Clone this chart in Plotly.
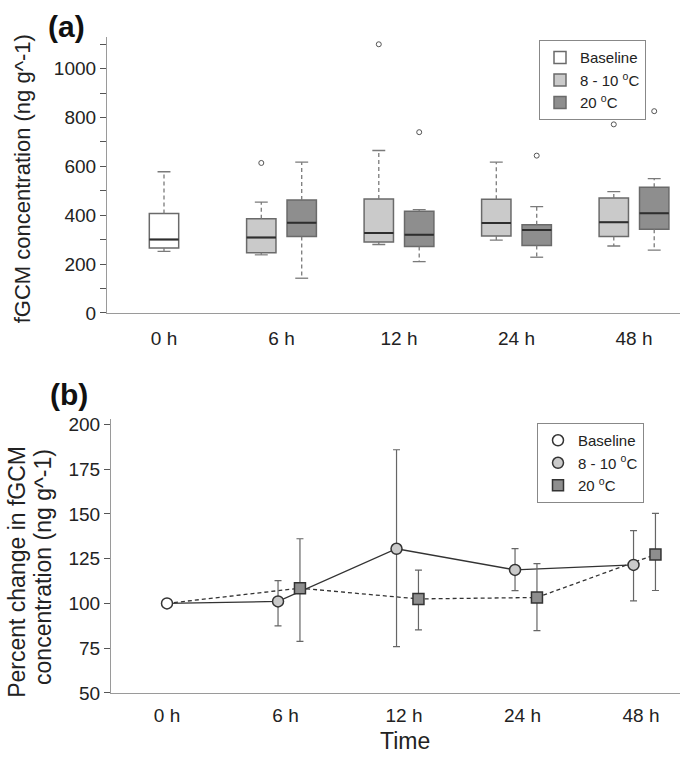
import plotly.graph_objects as go

# ---------------- data ----------------
time_labels = ["0 h", "6 h", "12 h", "24 h", "48 h"]

# panel (a): box statistics (ng g^-1)
base_stats = dict(lo=252, q1=266, med=301, q3=407, hi=578)

cool_lo = [238, 280, 298, 274]
cool_q1 = [246, 290, 315, 313]
cool_med = [309, 327, 368, 371]
cool_q3 = [386, 466, 465, 471]
cool_hi = [454, 665, 617, 497]
cool_out = [[614], [1100], [], [772]]

warm_lo = [142, 210, 228, 257]
warm_q1 = [313, 272, 276, 343]
warm_med = [369, 320, 339, 408]
warm_q3 = [462, 416, 361, 515]
warm_hi = [617, 423, 435, 550]
warm_out = [[], [740], [644], [826]]

# panel (b): percent change, mean and error-bar limits
base_pct = 100
cool_pct = [101.1, 130.5, 118.7, 121.5]
cool_up = [112.7, 185.8, 130.6, 140.6]
cool_dn = [87.4, 75.9, 107.1, 101.4]
warm_pct = [108.5, 102.5, 103.3, 127.3]
warm_up = [136.1, 118.6, 122.2, 150.3]
warm_dn = [78.8, 85.2, 84.8, 107.2]

# ---------------- styling ----------------
FONT = "Liberation Sans, Arial, sans-serif"
W, H = 685, 762
C_LIGHT = "#cacaca"
C_DARK = "#8e8e8e"
C_EDGE = "#6a6a6a"
C_MED = "#2e2e2e"
C_WHISK = "#7a7a7a"

BOX_OFF = 0.172
BOX_W = 0.25
CAP_HALF = 0.055

fig = go.Figure()

idx = list(range(1, 5))


def add_box(pos, lo, q1, med, q3, hi, outs, fill, name, show):
    fig.add_trace(go.Box(
        x=[pos], q1=[q1], median=[med], q3=[q3], lowerfence=[q1], upperfence=[q3],
        width=BOX_W, fillcolor=fill, line=dict(color=C_EDGE, width=1.5),
        whiskerwidth=0, name=name, legendgroup=name, showlegend=show,
        legend="legend", xaxis="x", yaxis="y", hoverinfo="skip",
    ))
    # dashed whiskers
    fig.add_trace(go.Scatter(
        x=[pos, pos, None, pos, pos], y=[q3, hi, None, q1, lo], mode="lines",
        line=dict(color=C_WHISK, width=1.3, dash="4px,3px"), showlegend=False,
        xaxis="x", yaxis="y", hoverinfo="skip",
    ))
    # caps
    fig.add_trace(go.Scatter(
        x=[pos - CAP_HALF, pos + CAP_HALF, None, pos - CAP_HALF, pos + CAP_HALF],
        y=[hi, hi, None, lo, lo], mode="lines",
        line=dict(color=C_WHISK, width=1.3), showlegend=False,
        xaxis="x", yaxis="y", hoverinfo="skip",
    ))
    # median
    fig.add_trace(go.Scatter(
        x=[pos - BOX_W / 2, pos + BOX_W / 2], y=[med, med], mode="lines",
        line=dict(color=C_MED, width=2), showlegend=False,
        xaxis="x", yaxis="y", hoverinfo="skip",
    ))
    if outs:
        fig.add_trace(go.Scatter(
            x=[pos] * len(outs), y=outs, mode="markers",
            marker=dict(symbol="circle-open", size=5, color="#555555", line=dict(width=1)),
            showlegend=False, xaxis="x", yaxis="y", hoverinfo="skip",
        ))


add_box(0, base_stats["lo"], base_stats["q1"], base_stats["med"], base_stats["q3"],
        base_stats["hi"], [], "white", "Baseline", True)
for k, i in enumerate(idx):
    add_box(i - BOX_OFF, cool_lo[k], cool_q1[k], cool_med[k], cool_q3[k], cool_hi[k],
            cool_out[k], C_LIGHT, "8 - 10 <sup>o</sup>C", k == 0)
for k, i in enumerate(idx):
    add_box(i + BOX_OFF, warm_lo[k], warm_q1[k], warm_med[k], warm_q3[k], warm_hi[k],
            warm_out[k], C_DARK, "20 <sup>o</sup>C", k == 0)

# ---------------- panel (b) ----------------
OFF_C = -0.063
OFF_W = 0.122
xc = [i + OFF_C for i in idx]
xw = [i + OFF_W for i in idx]

fig.add_trace(go.Scatter(
    x=[0] + xc, y=[base_pct] + cool_pct, mode="lines",
    line=dict(color="#333333", width=1.3), showlegend=False,
    xaxis="x2", yaxis="y2", hoverinfo="skip",
))
fig.add_trace(go.Scatter(
    x=[0] + xw, y=[base_pct] + warm_pct, mode="lines",
    line=dict(color="#333333", width=1.3, dash="4px,3px"), showlegend=False,
    xaxis="x2", yaxis="y2", hoverinfo="skip",
))
fig.add_trace(go.Scatter(
    x=xc, y=cool_pct, mode="markers", name="8 - 10 <sup>o</sup>C",
    marker=dict(symbol="circle", size=11, color=C_LIGHT, line=dict(color="#333333", width=1.5)),
    error_y=dict(type="data", symmetric=False,
                 array=[u - m for u, m in zip(cool_up, cool_pct)],
                 arrayminus=[m - d for m, d in zip(cool_pct, cool_dn)],
                 color="#666666", thickness=1.2, width=3.5),
    legend="legend2", legendrank=2, xaxis="x2", yaxis="y2",
))
fig.add_trace(go.Scatter(
    x=xw, y=warm_pct, mode="markers", name="20 <sup>o</sup>C",
    marker=dict(symbol="square", size=11, color=C_DARK, line=dict(color="#333333", width=1.5)),
    error_y=dict(type="data", symmetric=False,
                 array=[u - m for u, m in zip(warm_up, warm_pct)],
                 arrayminus=[m - d for m, d in zip(warm_pct, warm_dn)],
                 color="#666666", thickness=1.2, width=3.5),
    legend="legend2", legendrank=3, xaxis="x2", yaxis="y2",
))
fig.add_trace(go.Scatter(
    x=[0], y=[base_pct], mode="markers", name="Baseline",
    marker=dict(symbol="circle", size=11, color="white", line=dict(color="#333333", width=1.5)),
    legend="legend2", legendrank=1, xaxis="x2", yaxis="y2",
))

# ---------------- layout ----------------
axis_line = dict(showline=True, linecolor="#9a9a9a", linewidth=1.2, showgrid=False,
                 zeroline=False, mirror=False)
tickfont = dict(family=FONT, size=19, color="#222222")

U_TOP = 117.5
U_BOT = 118.5

fig.update_layout(
    width=W, height=H, margin=dict(l=0, r=0, t=0, b=0),
    paper_bgcolor="white", plot_bgcolor="white", showlegend=True,
    font=dict(family=FONT, color="#222222"),
    xaxis=dict(domain=[107 / W, 680 / W], anchor="y",
               range=[(107 - 164) / U_TOP, (680 - 164) / U_TOP],
               tickmode="array", tickvals=[0, 1, 2, 3, 4], ticktext=time_labels,
               ticks="", ticklabelstandoff=8, tickfont=tickfont, **axis_line),
    yaxis=dict(domain=[1 - 314.5 / H, 1 - 33 / H], anchor="x",
               range=[0, 1128.5], tickmode="linear", tick0=0, dtick=200,
               ticks="outside", ticklen=6, tickcolor="#555555", tickfont=tickfont,
               minor=dict(dtick=100, ticks="outside", ticklen=6, tickcolor="#555555"),
               **axis_line),
    xaxis2=dict(domain=[111 / W, 680 / W], anchor="y2",
                range=[(111 - 167) / U_BOT, (680 - 167) / U_BOT],
                tickmode="array", tickvals=[0, 1, 2, 3, 4], ticktext=time_labels,
                ticks="", ticklabelstandoff=5, tickfont=tickfont, **axis_line),
    yaxis2=dict(domain=[1 - 702.7 / H, 1 - 423 / H], anchor="x2",
                range=[50, 202.9], tickmode="linear", tick0=50, dtick=25,
                ticks="outside", ticklen=6, tickcolor="#555555", tickfont=tickfont,
                **axis_line),
    legend=dict(x=539 / W, y=1 - 36 / H, xanchor="left", yanchor="top",
                bgcolor="white", bordercolor="#888888", borderwidth=1,
                font=dict(family=FONT, size=15, color="#222222"),
                tracegroupgap=0, itemwidth=30),
    legend2=dict(x=537 / W, y=1 - 427 / H, xanchor="left", yanchor="top",
                 bgcolor="white", bordercolor="#888888", borderwidth=1,
                 font=dict(family=FONT, size=15, color="#222222"),
                 tracegroupgap=0, itemwidth=30),
    annotations=[
        dict(text="<b>(a)</b>", x=66.5 / W, y=1 - 22 / H, xref="paper", yref="paper",
             showarrow=False, xanchor="center", yanchor="middle",
             font=dict(family=FONT, size=30, color="#111111")),
        dict(text="<b>(b)</b>", x=68.5 / W, y=1 - 398 / H, xref="paper", yref="paper",
             showarrow=False, xanchor="center", yanchor="middle",
             font=dict(family=FONT, size=30, color="#111111")),
        dict(text="fGCM concentration (ng g^-1)", x=22 / W, y=1 - 178 / H,
             xref="paper", yref="paper", showarrow=False, textangle=-90,
             xanchor="center", yanchor="middle",
             font=dict(family=FONT, size=22, color="#222222")),
        dict(text="Percent change in fGCM", x=17 / W, y=1 - 579 / H,
             xref="paper", yref="paper", showarrow=False, textangle=-90,
             xanchor="center", yanchor="middle",
             font=dict(family=FONT, size=23, color="#222222")),
        dict(text="concentration (ng g^-1)", x=43 / W, y=1 - 574 / H,
             xref="paper", yref="paper", showarrow=False, textangle=-90,
             xanchor="center", yanchor="middle",
             font=dict(family=FONT, size=23, color="#222222")),
        dict(text="Time", x=405 / W, y=1 - 752 / H, xref="paper", yref="paper",
             showarrow=False, xanchor="center", yanchor="middle",
             font=dict(family=FONT, size=23, color="#222222")),
    ],
)

fig.write_html("out.html", config={"displayModeBar": False},
               post_script="document.body.style.margin='0px';")
